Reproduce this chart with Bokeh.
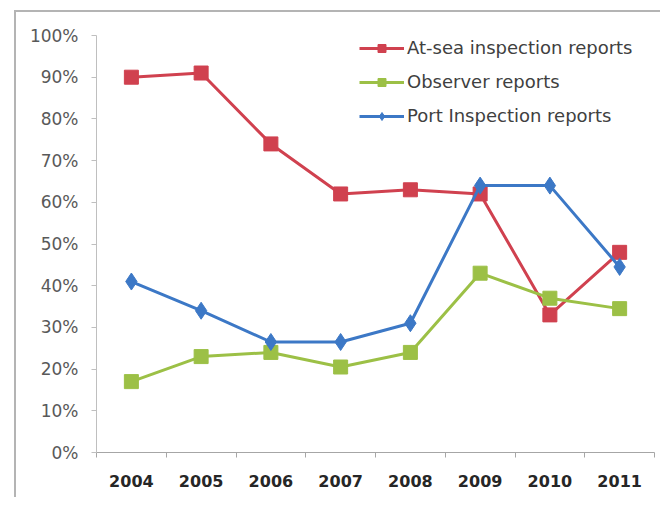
from bokeh.plotting import figure
from bokeh.models import Range1d, FixedTicker, PrintfTickFormatter, Legend, LegendItem
from bokeh.embed import file_html
from bokeh.resources import INLINE

years = ["2004", "2005", "2006", "2007", "2008", "2009", "2010", "2011"]
at_sea = [90, 91, 74, 62, 63, 62, 33, 48]
observer = [17, 23, 24, 20.5, 24, 43, 37, 34.5]
port = [41, 34, 26.5, 26.5, 31, 64, 64, 44.5]
y_ticks = [0, 10, 20, 30, 40, 50, 60, 70, 80, 90, 100]

RED = "#D0414F"
GREEN = "#9CC046"
BLUE = "#3C78C6"

xs = [i + 0.5 for i in range(len(years))]

p = figure(frame_width=558, frame_height=417, width=644, height=485,
           min_border_left=80, min_border_top=23, min_border_bottom=45, min_border_right=6,
           output_backend="svg", toolbar_location=None,
           x_range=Range1d(0, len(years)), y_range=Range1d(0, 100))
p.styles = {"margin-left": "14px", "margin-top": "10px",
            "border-left": "2px solid #b4b4b4", "border-top": "2px solid #b4b4b4"}

p.outline_line_color = None
p.xgrid.grid_line_color = None
p.ygrid.grid_line_color = None
p.background_fill_color = "white"
p.border_fill_color = "white"

# y axis
p.yaxis.ticker = FixedTicker(ticks=y_ticks, minor_ticks=[])
p.yaxis.formatter = PrintfTickFormatter(format="%d%%")
p.yaxis.axis_line_color = "#bfbfbf"
p.yaxis.major_tick_line_color = "#bfbfbf"
p.yaxis.major_tick_in = 0
p.yaxis.major_tick_out = 5
p.yaxis.minor_tick_line_color = None
p.yaxis.major_label_text_font = "DejaVu Sans"
p.yaxis.major_label_text_font_size = "17px"
p.yaxis.major_label_text_color = "#595959"
p.yaxis.major_label_standoff = 13

# x axis: labels at category centres, tick marks at boundaries
p.xaxis.ticker = FixedTicker(ticks=xs, minor_ticks=list(range(len(years) + 1)))
p.xaxis.major_label_overrides = {x: y for x, y in zip(xs, years)}
p.xaxis.axis_line_color = "#a6a6a6"
p.xaxis.major_tick_line_color = None
p.xaxis.minor_tick_line_color = "#a6a6a6"
p.xaxis.minor_tick_in = 0
p.xaxis.minor_tick_out = 5
p.xaxis.major_label_text_font = "DejaVu Sans"
p.xaxis.major_label_text_font_style = "bold"
p.xaxis.major_label_text_font_size = "16px"
p.xaxis.major_label_text_color = "#262626"
p.xaxis.major_label_standoff = 16

r1 = p.line(xs, at_sea, line_color=RED, line_width=3)
m1 = p.scatter(xs, at_sea, marker="square", size=14, fill_color=RED, line_color=RED)
r2 = p.line(xs, observer, line_color=GREEN, line_width=3)
m2 = p.scatter(xs, observer, marker="square", size=14, fill_color=GREEN, line_color=GREEN)
r3 = p.line(xs, port, line_color=BLUE, line_width=3)
m3 = p.scatter(xs, port, marker="diamond", size=17, fill_color=BLUE, line_color=BLUE)

legend = Legend(items=[
    LegendItem(label="At-sea inspection reports", renderers=[r1, m1]),
    LegendItem(label="Observer reports", renderers=[r2, m2]),
    LegendItem(label="Port Inspection reports", renderers=[r3, m3]),
], location=(263, 326))
legend.border_line_color = None
legend.background_fill_alpha = 0
legend.padding = 0
legend.margin = 0
legend.spacing = 13
legend.glyph_width = 45
legend.glyph_height = 20
legend.label_height = 20
legend.label_standoff = 3
legend.label_text_font = "DejaVu Sans"
legend.label_text_font_size = "18px"
legend.label_text_color = "#404040"
p.add_layout(legend)

open("out.html", "w").write(file_html(p, INLINE))
